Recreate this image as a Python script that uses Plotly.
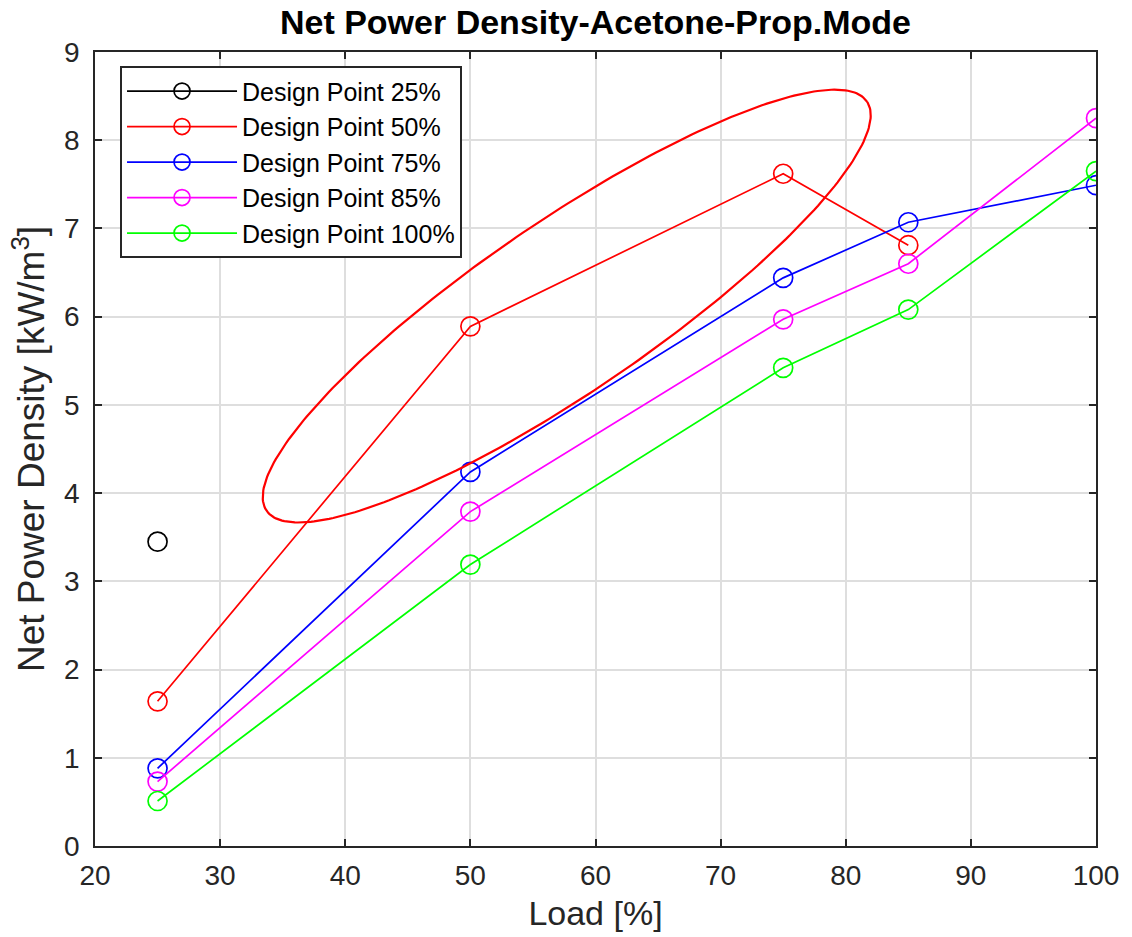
import numpy as np
import plotly.graph_objects as go

# Load levels [%] and net power density [kW/m^3] for each design point
load = [25, 50, 75, 85, 100]
dp25 = [3.45]
dp50 = [1.64, 5.89, 7.62, 6.81]
dp75 = [0.88, 4.24, 6.44, 7.07, 7.49]
dp85 = [0.73, 3.79, 5.97, 6.60, 8.25]
dp100 = [0.51, 3.19, 5.42, 6.08, 7.65]

series = [
    ("Design Point 25%", load[:1], dp25, "#000000"),
    ("Design Point 50%", load[:4], dp50, "#FF0000"),
    ("Design Point 75%", load, dp75, "#0000FF"),
    ("Design Point 85%", load, dp85, "#FF00FF"),
    ("Design Point 100%", load, dp100, "#00FF00"),
]

FONT = "Liberation Sans, Arial, Helvetica"

fig = go.Figure()
for name, xs, ys, col in series:
    fig.add_trace(go.Scatter(
        x=xs, y=ys, name=name, mode="lines+markers",
        line=dict(color=col, width=1.7),
        marker=dict(symbol="circle-open", size=19, color=col, line=dict(width=1.7)),
    ))

# Highlight ellipse around the 50% design point curve
cx, cy = 57.7, 6.12          # centre (data units)
a_px, b_px, theta = 363.0, 85.3, np.deg2rad(34.3)  # semi-axes and tilt on screen
px_x, px_y = 12.5, 88.2      # screen pixels per data unit
t = np.linspace(0, 2 * np.pi, 300)
ox = a_px * np.cos(t) * np.cos(theta) - b_px * np.sin(t) * np.sin(theta)
oy = a_px * np.cos(t) * np.sin(theta) + b_px * np.sin(t) * np.cos(theta)
fig.add_trace(go.Scatter(
    x=cx + ox / px_x, y=cy + oy / px_y, mode="lines",
    line=dict(color="#FF0000", width=2.2), showlegend=False, hoverinfo="skip",
))

axis_common = dict(
    showline=True, linecolor="#262626", linewidth=1.6, mirror="ticks",
    ticks="inside", ticklen=7, tickwidth=1.6, tickcolor="#262626",
    showgrid=True, gridcolor="#DEDEDE", gridwidth=1.5, zeroline=False,
    tickfont=dict(family=FONT, size=28, color="#262626"),
)

fig.update_layout(
    width=1132, height=937,
    margin=dict(l=95, r=36, t=52, b=91),
    paper_bgcolor="white", plot_bgcolor="white",
    title=dict(text="<b>Net Power Density-Acetone-Prop.Mode</b>", x=0.526, xanchor="center",
               y=0.976, yanchor="middle",
               font=dict(family=FONT, size=34, color="black")),
    xaxis=dict(range=[20, 100], tickvals=list(range(20, 101, 10)), ticklabelstandoff=4,
               **axis_common,
               title=dict(text="Load [%]", standoff=11,
                          font=dict(family=FONT, size=34, color="#262626"))),
    yaxis=dict(range=[0, 9], tickvals=list(range(0, 10)), ticklabelstandoff=8,
               **axis_common,
               title=dict(text="Net Power Density [kW/m<sup>3</sup>]", standoff=8,
                          font=dict(family=FONT, size=37, color="#262626"))),
    legend=dict(x=0.025, y=0.982, xanchor="left", yanchor="top",
                bgcolor="white", bordercolor="#262626", borderwidth=2,
                font=dict(family=FONT, size=25, color="black"),
                itemwidth=110, tracegroupgap=0),
    showlegend=True,
)

fig.write_html("out.html")
